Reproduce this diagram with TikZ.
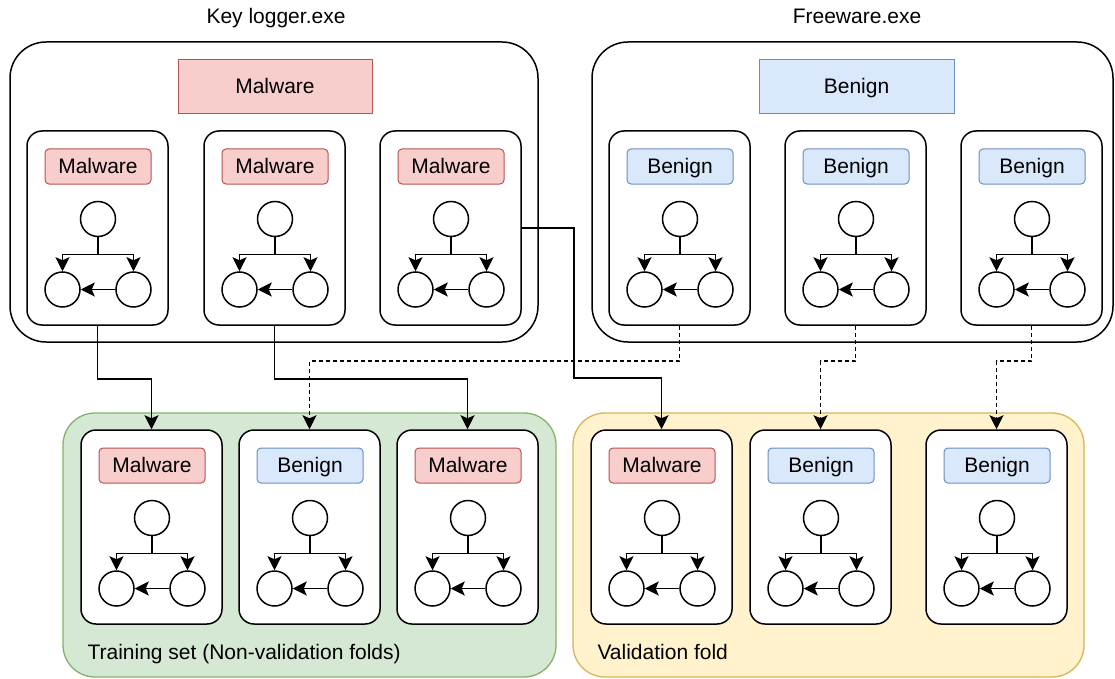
\documentclass[tikz,border=0pt]{standalone}
\usepackage{fontspec}
\setmainfont{Liberation Sans}
\usetikzlibrary{arrows.meta}
\definecolor{mfill}{HTML}{F8CECC}
\definecolor{mline}{HTML}{B85450}
\definecolor{bfill}{HTML}{DAE8FC}
\definecolor{bline}{HTML}{6C8EBF}
\definecolor{gfill}{HTML}{D5E8D4}
\definecolor{gline}{HTML}{82B366}
\definecolor{yfill}{HTML}{FFF2CC}
\definecolor{yline}{HTML}{D6B656}
\tikzset{
  every node/.style={font=\fontsize{21}{25}\selectfont},
  txt/.style={text height=17pt, text depth=3pt},
  lw/.style={line width=1.5pt},
  smallbox/.style={lw, draw=black, fill=white, rounded corners=15pt, minimum width=141pt, minimum height=194pt, inner sep=0pt},
  bigbox/.style={lw, draw=black, fill=white, rounded corners=36pt, inner sep=0pt},
  mlab/.style={txt, draw=mline, fill=mfill, line width=1pt, rounded corners=4pt, minimum width=106pt, minimum height=35pt, inner sep=0pt},
  blab/.style={txt, draw=bline, fill=bfill, line width=1pt, rounded corners=4pt, minimum width=106pt, minimum height=35pt, inner sep=0pt},
  circ/.style={lw, draw=black, fill=white, circle, minimum size=35pt, inner sep=0pt},
  arr/.style={lw, -{Stealth[length=14pt, width=14pt, inset=3pt]}},
  dsh/.style={dash pattern=on 4pt off 3pt},
  plain/.style={lw}
}
% name, left x, top y, label style, label text
\newcommand{\gbox}[5]{%
  \node[smallbox] (#1) at ({#2+70.5},{#3+97}) {};
  \node[#4] (#1l) at ({#2+71},{#3+35.5}) {#5};
  \node[circ] (#1t) at ({#2+71},{#3+88}) {};
  \node[circ] (#1a) at ({#2+35.5},{#3+158.5}) {};
  \node[circ] (#1b) at ({#2+106.5},{#3+158.5}) {};
  \coordinate (#1j) at ({#2+71},{#3+123.5});
  \draw[plain] (#1t) -- (#1j);
  \draw[arr] (#1j) -| (#1a);
  \draw[arr] (#1j) -| (#1b);
  \draw[arr] (#1b) -- (#1a);
}
\begin{document}
\begin{tikzpicture}[x=1pt, y=-1pt]
\useasboundingbox (0,0) rectangle (1115,679);
% titles
\node[txt] (klt) at (276,17) {Key logger.exe};
\node[txt] (fwt) at (857,17) {Freeware.exe};
% big boxes
\node[bigbox, minimum width=528pt, minimum height=300pt] (kl) at (274,192) {};
\node[bigbox, minimum width=521pt, minimum height=300pt] (fw) at (852.5,192) {};
\node[txt, draw=mline, fill=mfill, line width=1pt, minimum width=194pt, minimum height=54pt, inner sep=0pt] (klab) at (275,87) {Malware};
\node[txt, draw=bline, fill=bfill, line width=1pt, minimum width=195pt, minimum height=54pt, inner sep=0pt] (flab) at (856.5,87) {Benign};
% bottom sets
\node[draw=gline, fill=gfill, line width=1.3pt, rounded corners=32pt, minimum width=493pt, minimum height=264pt, inner sep=0pt] (train) at (309.5,545) {};
\node[draw=yline, fill=yfill, line width=1.3pt, rounded corners=32pt, minimum width=511pt, minimum height=264pt, inner sep=0pt] (val) at (828.5,545) {};
\node[txt, anchor=west] (trainlab) at (84,652) {Training set (Non-validation folds)};
\node[txt, anchor=west] (vallab) at (594,652) {Validation fold};
% top small graphs
\gbox{m1}{27}{131}{mlab}{Malware}
\gbox{m2}{204}{131}{mlab}{Malware}
\gbox{m3}{380}{131}{mlab}{Malware}
\gbox{b1}{609}{131}{blab}{Benign}
\gbox{b2}{785}{131}{blab}{Benign}
\gbox{b3}{961}{131}{blab}{Benign}
% bottom small graphs
\gbox{t1}{81}{430}{mlab}{Malware}
\gbox{t2}{239}{430}{blab}{Benign}
\gbox{t3}{397}{430}{mlab}{Malware}
\gbox{v1}{591}{430}{mlab}{Malware}
\gbox{v2}{750}{430}{blab}{Benign}
\gbox{v3}{926}{430}{blab}{Benign}
% connectors
\draw[arr] (m1.south) -- ++(0,53) -| (t1.north);
\draw[arr] (m2.south) -- ++(0,53) -| (t3.north);
\draw[arr] (m3.east) -- ++(52,0) -- ++(0,150) -| (v1.north);
\draw[arr, dsh] (b1.south) -- ++(0,35) -| (t2.north);
\draw[arr, dsh] (b2.south) -- ++(0,35) -| (v2.north);
\draw[arr, dsh] (b3.south) -- ++(0,35) -| (v3.north);
\end{tikzpicture}
\end{document}
